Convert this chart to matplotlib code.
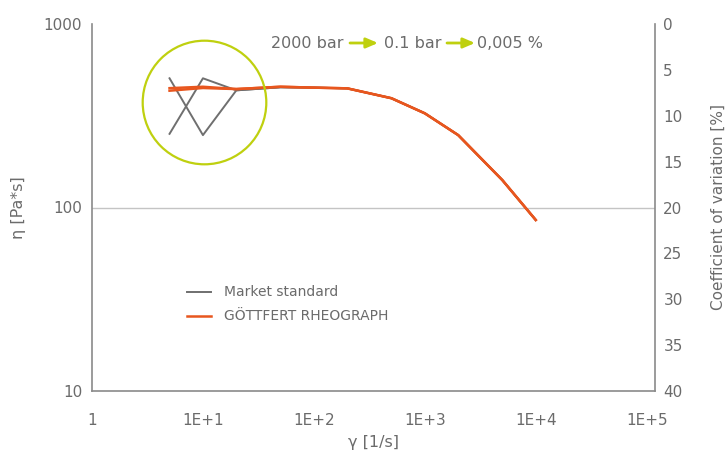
import numpy as np
import matplotlib
matplotlib.use('Agg')
import matplotlib.pyplot as plt

# shear rate [1/s]
shear_rate = [5, 10, 20, 50, 100, 200, 500, 1000, 2000, 5000, 10000]

# viscosity [Pa*s], two repeats per device
market_1 = [506, 248, 435, 452, 450, 446, 394, 326, 248, 141, 85.5]
market_2 = [252, 506, 435, 452, 450, 446, 394, 326, 248, 141, 85.5]
rheo_1 = [447, 455, 442, 455, 450, 446, 394, 326, 248, 141, 85.5]
rheo_2 = [433, 448, 442, 455, 450, 446, 394, 326, 248, 141, 85.5]

x_ticks = [1, 10, 100, 1000, 10000, 100000]
x_ticklabels = ['1', '1E+1', '1E+2', '1E+3', '1E+4', '1E+5']
y_ticks = [10, 100, 1000]
cv_ticks = [0, 5, 10, 15, 20, 25, 30, 35, 40]

GRAY = '#6f6f6f'
TXT = '#6b6b6b'
AX = '#8a8a8a'
ORANGE = '#e8561e'
GREEN = '#bfd00f'

plt.rcParams.update({'font.family': ['DejaVu Sans'], 'font.size': 10.5})

W, H = 727, 455
fig = plt.figure(figsize=(W / 100, H / 100), dpi=100)
L, R, T, B = 92, 655, 24, 391
ax = fig.add_axes([L / W, 1 - B / H, (R - L) / W, (B - T) / H])

ax.set_xscale('log')
ax.set_yscale('log')
ax.set_xlim(1, 10 ** 5.075)
ax.set_ylim(10, 1000)

ax.axhline(100, color='#c4c4c4', lw=1, zorder=0)

ax.plot(shear_rate, market_1, color=GRAY, lw=1.4, label='Market standard')
ax.plot(shear_rate, market_2, color=GRAY, lw=1.4)
ax.plot(shear_rate, rheo_1, color=ORANGE, lw=1.8, label='GÖTTFERT RHEOGRAPH')
ax.plot(shear_rate, rheo_2, color=ORANGE, lw=1.8)

# highlight circle
ax.plot([10.2], [376], marker='o', markersize=89, markerfacecolor='none',
        markeredgecolor=GREEN, markeredgewidth=1.6, zorder=5)

ax.set_xticks(x_ticks)
ax.set_xticklabels(x_ticklabels)
ax.set_yticks(y_ticks)
ax.set_yticklabels([str(v) for v in y_ticks])
ax.minorticks_off()
ax.tick_params(axis='x', length=0, pad=16, colors=TXT, labelsize=11)
ax.tick_params(axis='y', length=0, pad=7, colors=TXT, labelsize=11)
for s in ['left', 'bottom']:
    ax.spines[s].set_color(AX)
    ax.spines[s].set_linewidth(1.2)
for s in ['top', 'right']:
    ax.spines[s].set_visible(False)

ax.set_xlabel('γ [1/s]', color=TXT, fontsize=11.5, labelpad=5)
ax.set_ylabel('η [Pa*s]', color=TXT, fontsize=11.5, labelpad=13)

ax2 = ax.twinx()
ax2.set_ylim(40, 0)
ax2.set_yticks(cv_ticks)
ax2.tick_params(axis='y', length=0, pad=6, colors=TXT, labelsize=11)
for s in ['left', 'bottom', 'top']:
    ax2.spines[s].set_visible(False)
ax2.spines['right'].set_color(AX)
ax2.spines['right'].set_linewidth(1.2)
ax2.set_ylabel('Coefficient of variation [%]', color=TXT, fontsize=11, labelpad=20)

leg = ax.legend(loc='upper left', bbox_to_anchor=(187 / W, 1 - 285.5 / H),
                bbox_transform=fig.transFigure, frameon=False,
                handlelength=1.75, handletextpad=0.9, labelspacing=0.72,
                fontsize=10, borderaxespad=0, borderpad=0)
for t in leg.get_texts():
    t.set_color(TXT)

# top annotation: 2000 bar -> 0.1 bar -> 0,005 %
ty = 1 - 43 / H
fig.text(271 / W, ty, '2000 bar', color=TXT, fontsize=11.5, va='center', ha='left')
fig.text(384 / W, ty, '0.1 bar', color=TXT, fontsize=11.5, va='center', ha='left')
fig.text(477 / W, ty, '0,005 %', color=TXT, fontsize=11.5, va='center', ha='left')
for x0, x1 in [(350, 378), (447, 475)]:
    fig.add_artist(matplotlib.patches.FancyArrowPatch(
        (x0 / W, ty), (x1 / W, ty), transform=fig.transFigure,
        arrowstyle='-|>,head_length=7,head_width=3', color=GREEN, lw=2,
        mutation_scale=1, shrinkA=0, shrinkB=0))

fig.savefig('out.png', dpi=100)
